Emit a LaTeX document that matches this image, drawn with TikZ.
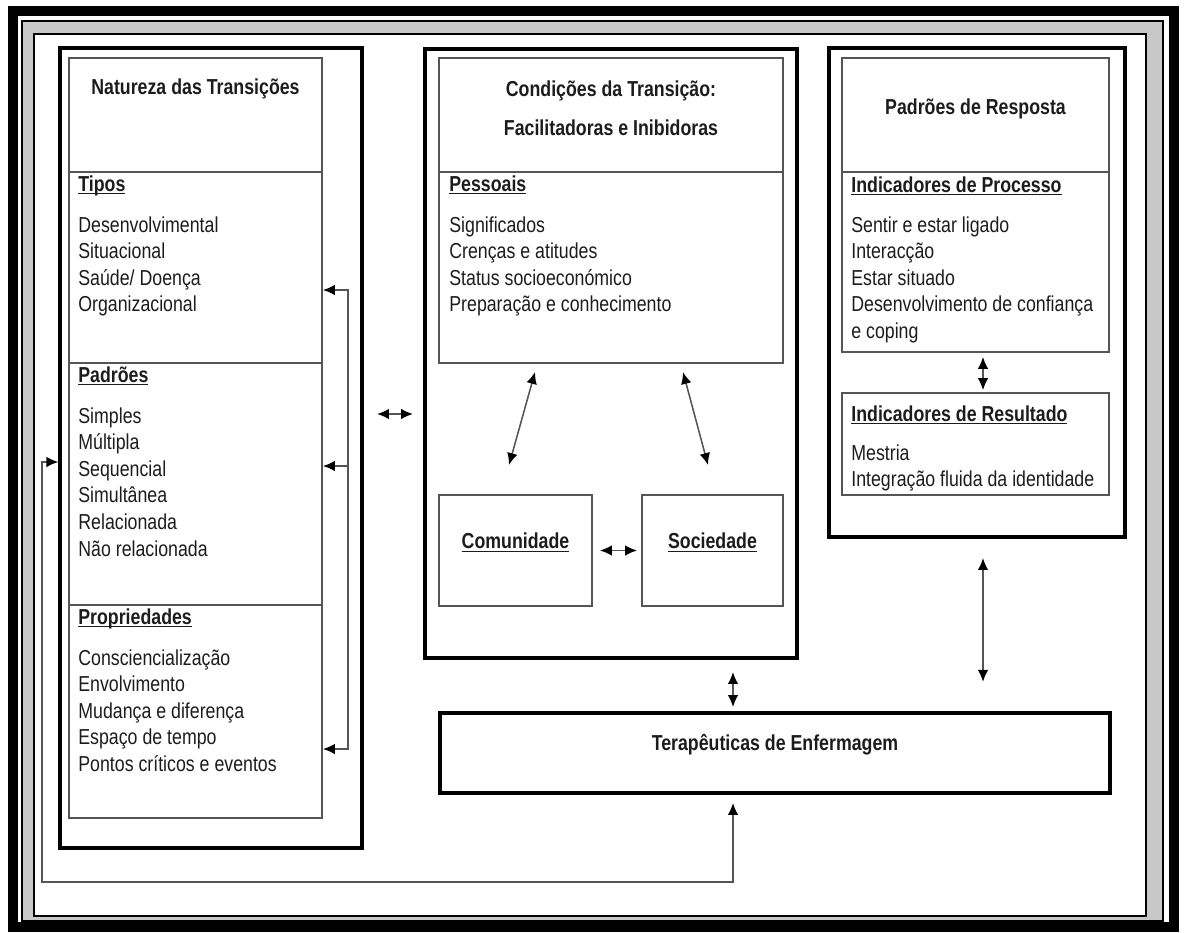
\documentclass[tikz,border=0pt]{standalone}
\usepackage{fontspec}
\setmainfont[FakeStretch=0.82]{Liberation Sans}
\usetikzlibrary{arrows.meta, fit, calc}
\definecolor{linecol}{HTML}{555555}
\definecolor{textcol}{HTML}{1C1C1C}
\definecolor{ringcol}{HTML}{C8C8C8}
\newcommand{\bodyfont}{\fontsize{15.4}{18.9}\selectfont}
\newcommand{\ulhead}[1]{\setbox0\hbox{\textbf{#1}}\rlap{\rule[-2.2pt]{\wd0}{0.9pt}}\box0}
\tikzset{
  outbox/.style={draw=black, line width=2.3pt, inner sep=0pt},
  inbox/.style={draw=linecol, line width=1.3pt, inner sep=0pt, text=textcol},
  terbox/.style={draw=black, line width=2.8pt, inner sep=0pt, text=textcol, font=\bodyfont\bfseries},
  conn/.style={draw=linecol, line width=1.1pt},
  dbl/.style={conn, <->},
  head/.style={anchor=base west, inner sep=0pt, text=textcol},
  item/.style={anchor=base west, inner sep=0pt, text=textcol},
  title/.style={anchor=base, inner sep=0pt, text=textcol, font=\bodyfont\bfseries},
}

\begin{document}
\begin{tikzpicture}[x=0.025cm, y=-0.025cm, >={Latex[length=8.5pt,width=7.5pt,color=black]}, font=\bodyfont]
  \useasboundingbox (0,0) rectangle (1184,933);
  % frame
  \draw[line width=7.1pt] (13,11) rectangle (1174,927);
  \fill[ringcol, even odd rule] (22,21) rectangle (1163,921) (34,34) rectangle (1146,916);
  \draw[line width=1.4pt] (22,21) rectangle (1163,921);
  \draw[line width=1.4pt] (34,34) rectangle (1146,916);

  % natureza das transicoes
  \node[inbox, fit={(69,58) (322,172)}] (natT) {};
  \node[inbox, fit={(69,172) (322,363)}] (tipos) {};
  \node[inbox, fit={(69,363) (322,605)}] (padr) {};
  \node[inbox, fit={(69,605) (322,818)}] (prop) {};
  \node[outbox, fit={(60,48) (362,848)}] (outL) {};
  \node[title] (natTxt) at (natT.center |- 0,95) {Natureza das Transições};
  \node[head] (tiposH) at ([shift={(10,20)}]tipos.north west) {\ulhead{Tipos}};
  \foreach \t [count=\i from 0] in {Desenvolvimental, Situacional, Saúde/ Doença, Organizacional}
    \node[item] (tipos\i) at ([shift={(10,{61+26.6*\i})}]tipos.north west) {\t};
  \node[head] (padrH) at ([shift={(10,20)}]padr.north west) {\ulhead{Padrões}};
  \foreach \t [count=\i from 0] in {Simples, Múltipla, Sequencial, Simultânea, Relacionada, Não relacionada}
    \node[item] (padr\i) at ([shift={(10,{61+26.6*\i})}]padr.north west) {\t};
  \node[head] (propH) at ([shift={(10,20)}]prop.north west) {\ulhead{Propriedades}};
  \foreach \t [count=\i from 0] in {Consciencialização, Envolvimento, Mudança e diferença, Espaço de tempo, Pontos críticos e eventos}
    \node[item] (prop\i) at ([shift={(10,{61+26.6*\i})}]prop.north west) {\t};

  % condicoes da transicao
  \node[inbox, fit={(439,58) (783,172)}] (condT) {};
  \node[inbox, fit={(439,172) (783,363)}] (pess) {};
  \node[inbox, fit={(439,495) (592,606)}] (comu) {\ulhead{Comunidade}};
  \node[inbox, fit={(642,495) (783,606)}] (soci) {\ulhead{Sociedade}};
  \node[outbox, fit={(425,49) (797,658)}] (outM) {};
  \node[title] (condTxt1) at (condT.center |- 0,97) {Condições da Transição:};
  \node[title] (condTxt2) at (condT.center |- 0,136) {Facilitadoras e Inibidoras};
  \node[head] (pessH) at ([shift={(11,20)}]pess.north west) {\ulhead{Pessoais}};
  \foreach \t [count=\i from 0] in {Significados, Crenças e atitudes, Status socioeconómico, Preparação e conhecimento}
    \node[item] (pess\i) at ([shift={(11,{61+26.6*\i})}]pess.north west) {\t};

  % padroes de resposta
  \node[inbox, fit={(842,58) (1109,172)}] (respT) {};
  \node[inbox, fit={(842,172) (1109,352)}] (proc) {};
  \node[inbox, fit={(842,393) (1109,495)}] (resu) {};
  \node[outbox, fit={(829,48) (1125,537)}] (outR) {};
  \node[title] (respTxt) at (respT.center |- 0,115) {Padrões de Resposta};
  \node[head] (procH) at ([shift={(10,21)}]proc.north west) {\ulhead{Indicadores de Processo}};
  \foreach \t [count=\i from 0] in {Sentir e estar ligado, Interacção, Estar situado, Desenvolvimento de confiança, e coping}
    \node[item] (proc\i) at ([shift={(10,{61+26.6*\i})}]proc.north west) {\t};
  \node[head] (resuH) at ([shift={(10,29)}]resu.north west) {\ulhead{Indicadores de Resultado}};
  \foreach \t [count=\i from 0] in {Mestria, Integração fluida da identidade}
    \node[item] (resu\i) at ([shift={(10,{68+26*\i})}]resu.north west) {\t};

  \node[terbox, fit={(440,713) (1110,793)}] (tera) {Terapêuticas de Enfermagem};

  % connectors
  \coordinate (brk) at (348,0);
  \coordinate (rx) at (983,0);
  \coordinate (tx) at (733,0);
  \coordinate (fb) at (42,882);
  \coordinate (pc1) at (535,372);
  \coordinate (pc2) at (509,465);
  \coordinate (ps1) at (683,372);
  \coordinate (ps2) at (708,465);
  \draw[dbl] (tipos.east |- 0,290) -| (brk |- 0,749) -- (prop.east |- 0,749);
  \draw[conn, ->] (brk |- 0,466) -- (padr.east |- 0,466);
  \draw[dbl, shorten <=0.335cm, shorten >=0.26cm] (outL.east |- 0,414) -- (outM.west |- 0,414);
  \draw[dbl] (pc1) -- (pc2);
  \draw[dbl] (ps1) -- (ps2);
  \draw[dbl, shorten <=0.175cm, shorten >=0.1cm] (comu.east) -- (soci.west);
  \draw[dbl, shorten <=0.1cm, shorten >=0.05cm] (proc.south -| rx) -- (resu.north -| rx);
  \draw[dbl, shorten <=0.485cm, shorten >=0.73cm] (outR.south -| rx) -- (tera.north -| rx);
  \draw[dbl, shorten <=0.31cm, shorten >=0.1cm] (outM.south -| tx) -- (tera.north -| tx);
  \draw[dbl, shorten <=0.2cm] (tera.south -| tx) |- (fb) |- (outL.west |- 0,462);
\end{tikzpicture}
\end{document}
